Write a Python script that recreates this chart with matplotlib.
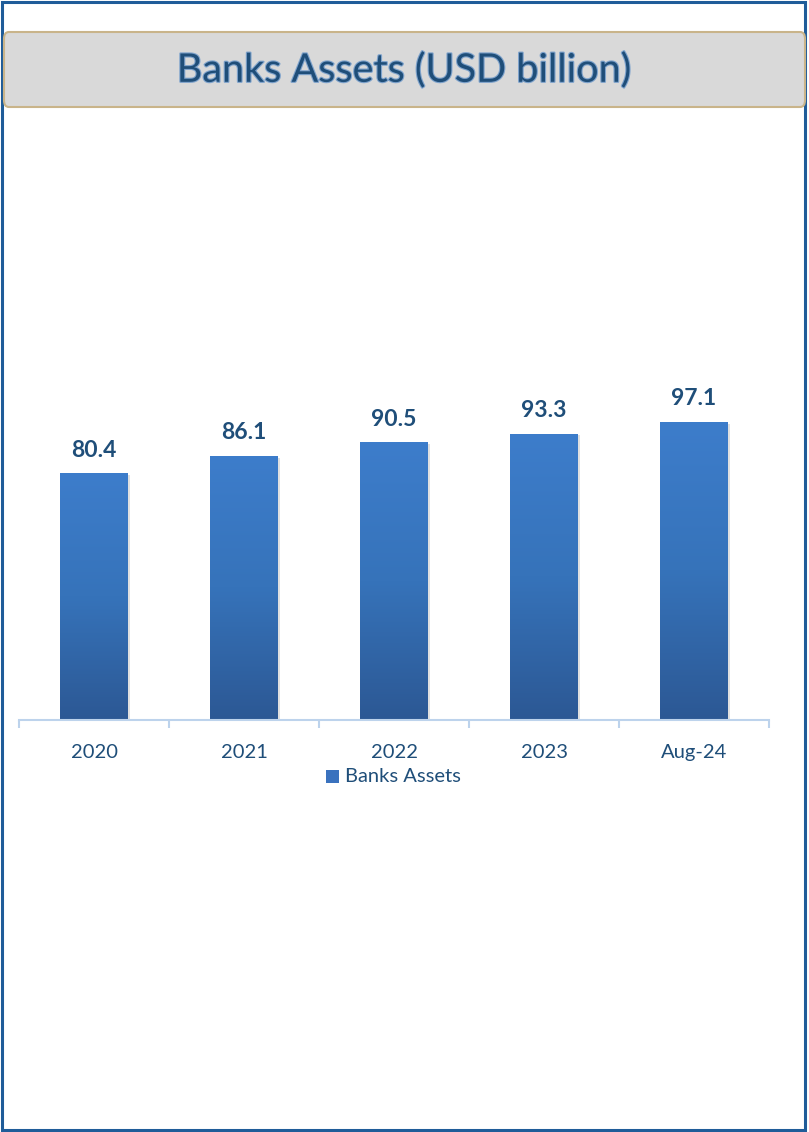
import matplotlib.pyplot as plt
import matplotlib.patheffects as pe
import numpy as np
from matplotlib.patches import FancyBboxPatch, Rectangle
from matplotlib.colors import LinearSegmentedColormap

# Banks assets, USD billion
categories = ["2020", "2021", "2022", "2023", "Aug-24"]
assets = [80.4, 86.1, 90.5, 93.3, 97.1]

plt.rcParams['font.family'] = ['Lato', 'DejaVu Sans']

W, H = 809, 1132
fig = plt.figure(figsize=(W / 100, H / 100), dpi=100)

# outer frame
fig.patches.append(Rectangle((1.5 / W, 2 / H), (805 - 1.5) / W, (1130 - 2) / H,
                             transform=fig.transFigure, fill=False,
                             edgecolor='#1F5C99', linewidth=2.2))

# title banner
fig.patches.append(FancyBboxPatch((4 / W, (H - 107) / H), (805 - 4) / W, 75 / H,
                                  boxstyle="round,pad=0,rounding_size=0.006",
                                  transform=fig.transFigure,
                                  facecolor='#D9D9D9', edgecolor='#C9B48A', linewidth=1.5))
fig.text(404 / W, (H - 70) / H, "Banks Assets (USD billion)", ha='center', va='center',
         fontsize=28.5, color='#1F4E79',
         path_effects=[pe.Stroke(linewidth=1.6, foreground='#7FA3CC'), pe.Normal()])

# plot area: baseline at y=720 px, 3.07 px per unit
ax_bottom = (H - 720) / H
ax_top = (H - 150) / H
ax = fig.add_axes([19 / W, ax_bottom, (769 - 19) / W, ax_top - ax_bottom])
ax.set_xlim(-0.5, 4.5)
ax.set_ylim(0, (720 - 150) / 3.07)

x = np.arange(len(categories))
bar_w = 0.453
bars = ax.bar(x, assets, width=bar_w, color='none', zorder=2)

grad = LinearSegmentedColormap.from_list('bar', ['#2C5894', '#3673BA', '#3D7DCB'])
g = np.linspace(0, 1, 256).reshape(-1, 1)
for b in bars:
    x0, y0 = b.get_x(), b.get_y()
    w, h = b.get_width(), b.get_height()
    # soft shadow behind the bar
    ax.add_patch(Rectangle((x0 + 0.012, y0), w, h - 0.6, facecolor='#000000',
                           alpha=0.12, linewidth=0, zorder=1))
    im = ax.imshow(g, cmap=grad, origin='lower', aspect='auto',
                   extent=[x0, x0 + w, y0, y0 + h], zorder=2)
    im.set_clip_path(b)
    ax.annotate(f"{b.get_height():.1f}", (x0 + w / 2, y0 + h),
                xytext=(0, 9), textcoords='offset points',
                ha='center', va='bottom', fontsize=16.5, fontweight='bold',
                color='#1F4E79')

for s in ['top', 'right', 'left']:
    ax.spines[s].set_visible(False)
ax.spines['bottom'].set_color('#BDD3EC')
ax.spines['bottom'].set_linewidth(1.5)
ax.set_yticks([])
ax.set_xticks(x)
ax.set_xticklabels(categories, fontsize=14.5, color='#1F4E79')
ax.tick_params(axis='x', which='major', length=0, pad=17)
ax.set_xticks(np.arange(-0.5, 5, 1), minor=True)
ax.tick_params(axis='x', which='minor', length=6, width=1.5, color='#BDD3EC',
               direction='out')
ax.set_facecolor('none')

# legend
fig.patches.append(Rectangle((326 / W, (H - 783) / H), 13 / W, 13 / H,
                             transform=fig.transFigure, facecolor='#3A72BE',
                             edgecolor='none'))
fig.text(345 / W, (H - 777) / H, "Banks Assets", ha='left', va='center',
         fontsize=14.5, color='#1F4E79')

fig.savefig("out.png", dpi=100)
